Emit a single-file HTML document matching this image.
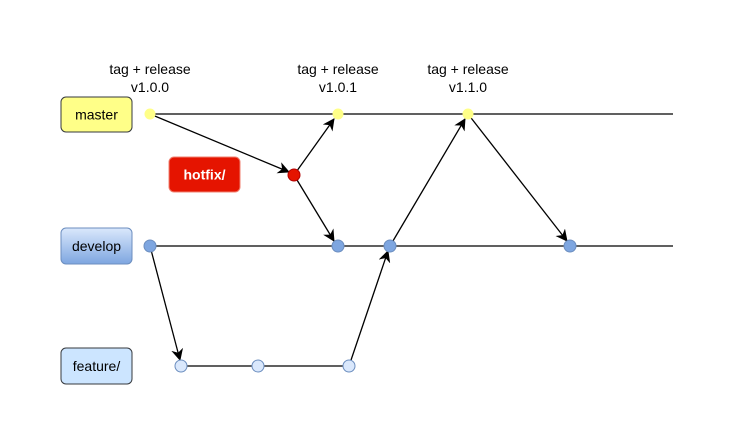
<!DOCTYPE html>
<html><head><style>
body{margin:0;background:#fff;}
svg{display:block;font-family:"Liberation Sans",Arial,sans-serif;}
</style></head><body>
<svg width="735" height="446" viewBox="0 0 735 446" xmlns="http://www.w3.org/2000/svg">
<defs>
<marker id="a" markerWidth="12" markerHeight="12" refX="11" refY="6" orient="auto" markerUnits="userSpaceOnUse">
<path d="M0,0 L12,6 L0,12 L3.5,6 Z" fill="#000"/>
</marker>
<linearGradient id="dg" x1="0" y1="0" x2="0" y2="1"><stop offset="0" stop-color="#dae8fc"/><stop offset="1" stop-color="#7ea6e0"/></linearGradient>
</defs>
<rect width="735" height="446" fill="#fff"/>
<g stroke="#000" stroke-width="1.3" fill="none">
<line x1="150" y1="114" x2="673" y2="114"/>
<line x1="150" y1="246" x2="673" y2="246"/>
<line x1="181" y1="366" x2="349" y2="366"/>
<line x1="150" y1="114" x2="289" y2="172" marker-end="url(#a)"/>
<line x1="294" y1="175" x2="334" y2="119" marker-end="url(#a)"/>
<line x1="294" y1="175" x2="334" y2="241" marker-end="url(#a)"/>
<line x1="150" y1="246" x2="180" y2="360" marker-end="url(#a)"/>
<line x1="349" y1="366" x2="388" y2="251" marker-end="url(#a)"/>
<line x1="390" y1="246" x2="465" y2="119" marker-end="url(#a)"/>
<line x1="468" y1="114" x2="567" y2="241" marker-end="url(#a)"/>
</g>
<rect x="61" y="97" width="71" height="35" rx="5" fill="#ffff88" stroke="#36393d"/>
<text x="96.5" y="119.5" font-size="14" text-anchor="middle">master</text>
<rect x="61" y="228" width="71" height="36" rx="5" fill="url(#dg)" stroke="#6c8ebf"/>
<text x="96.5" y="251" font-size="14" text-anchor="middle">develop</text>
<rect x="61" y="348" width="71" height="36" rx="5" fill="#cce5ff" stroke="#36393d"/>
<text x="96.5" y="371" font-size="14" text-anchor="middle">feature/</text>
<rect x="169" y="157" width="71" height="35" rx="5" fill="#e51400" stroke="#f08070"/>
<text x="204.5" y="179.5" font-size="14" font-weight="bold" fill="#fff" text-anchor="middle">hotfix/</text>
<g fill="#ffff88" stroke="#ffff88">
<circle cx="150" cy="114" r="5"/><circle cx="338" cy="114" r="5"/><circle cx="468" cy="114" r="5"/>
</g>
<circle cx="294" cy="175" r="6" fill="#e51400" stroke="#b20000"/>
<g fill="#7ea6e0" stroke="#6c8ebf">
<circle cx="150" cy="246" r="6"/><circle cx="338" cy="246" r="6"/><circle cx="390" cy="246" r="6"/><circle cx="570" cy="246" r="6"/>
</g>
<g fill="#dae8fc" stroke="#6c8ebf">
<circle cx="181" cy="366" r="6"/><circle cx="258" cy="366" r="6"/><circle cx="349" cy="366" r="6"/>
</g>
<g font-size="14" text-anchor="middle" fill="#000">
<text x="150" y="74">tag + release</text><text x="150" y="92">v1.0.0</text>
<text x="338" y="74">tag + release</text><text x="338" y="92">v1.0.1</text>
<text x="468" y="74">tag + release</text><text x="468" y="92">v1.1.0</text>
</g>
</svg>
</body></html>
